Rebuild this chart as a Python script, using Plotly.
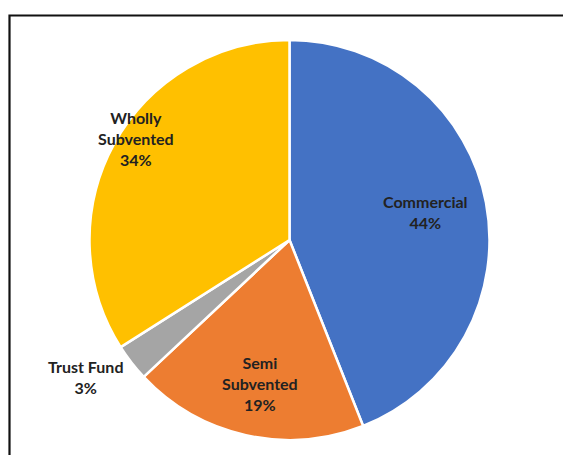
import plotly.graph_objects as go

categories = ["Commercial", "Semi Subvented", "Trust Fund", "Wholly Subvented"]
values = [44, 19, 3, 34]
label_text = ["Commercial", "Semi<br>Subvented", "Trust Fund", "Wholly<br>Subvented"]
colors = ["#4472C4", "#ED7D31", "#A5A5A5", "#FFC000"]

W, H = 563, 455
cx, cy, R = 289.5, 240, 200  # pixel centre/radius of the pie

fig = go.Figure(go.Pie(
    labels=categories,
    values=values,
    sort=False,
    direction="clockwise",
    rotation=0,
    textinfo="none",
    hoverinfo="label+percent",
    marker=dict(colors=colors, line=dict(color="white", width=2.5)),
    domain=dict(x=[(cx - R) / W, (cx + R) / W], y=[(H - cy - R) / H, (H - cy + R) / H]),
    showlegend=False,
))

# label placement (pixel positions of label centres)
label_pos = [(425, 212), (260, 383), (85, 377), (136, 138)]
total = sum(values)
for txt, v, (px, py) in zip(label_text, values, label_pos):
    pct = round(100 * v / total)
    fig.add_annotation(
        x=px / W, y=1 - py / H, xref="paper", yref="paper",
        text=f"{txt}<br>{pct}%", showarrow=False,
        font=dict(family="Lato", size=16, color="#222222", weight="bold"),
        align="center", xanchor="center", yanchor="middle",
    )

# outer chart frame
fig.add_shape(type="rect", xref="paper", yref="paper",
              x0=9.5 / W, x1=1.2, y0=-0.2, y1=1 - 15.5 / H,
              line=dict(color="#111111", width=2.2), fillcolor="rgba(0,0,0,0)")

fig.update_layout(
    width=W, height=H,
    margin=dict(l=0, r=0, t=0, b=0),
    paper_bgcolor="white", plot_bgcolor="white",
)

fig.write_html("out.html")
